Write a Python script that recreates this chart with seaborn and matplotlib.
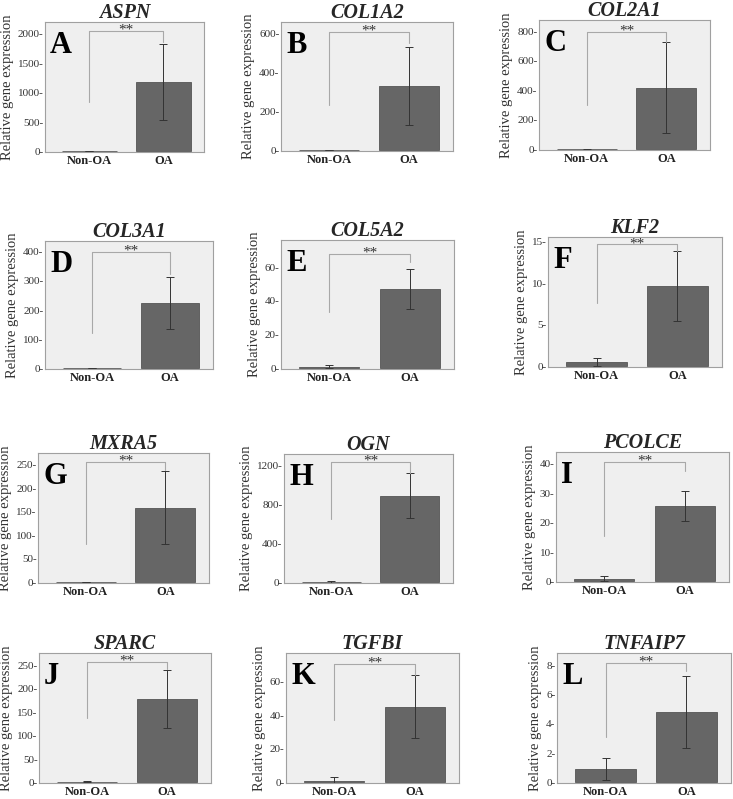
import numpy as np
import pandas as pd
import matplotlib
matplotlib.use("Agg")
import matplotlib.pyplot as plt
import seaborn as sns

sns.set_style("white")
plt.rcParams['font.family'] = ['Liberation Serif', 'DejaVu Serif']

# data
genes = ["ASPN", "COL1A2", "COL2A1", "COL3A1", "COL5A2", "KLF2",
         "MXRA5", "OGN", "PCOLCE", "SPARC", "TGFBI", "TNFAIP7"]
letters = ["A", "B", "C", "D", "E", "F", "G", "H", "I", "J", "K", "L"]
groups = ["Non-OA", "OA"]
nonoa_mean = [1, 1, 1, 1, 0.9, 0.55, 1, 5, 1.0, 2, 1.0, 0.95]
nonoa_err = [1, 1, 2, 1, 0.9, 0.45, 1, 12, 0.7, 1, 2.0, 0.75]
oa_mean = [1180, 332, 419, 225, 47, 9.7, 159, 892, 25.6, 178, 45, 4.82]
oa_err = [645, 202, 307, 88, 12, 4.2, 77, 231, 5.0, 62, 18.7, 2.43]
ymax = [2200, 660, 878, 437, 76, 15.6, 275, 1320, 44, 276, 77, 8.85]
ystep = [500, 200, 200, 100, 20, 5, 50, 400, 10, 50, 20, 2]
# significance bracket: left leg bottom, top, right leg bottom
br_left = [841, 235, 304, 122, 33.6, 7.7, 82, 650, 15.5, 137, 37, 3.09]
br_top = [2051, 609, 800, 400, 67.7, 14.7, 256, 1238, 40.7, 257, 70.7, 8.16]
br_right = [1864, 553, 727, 325, 63, 13.9, 239, 1125, 37.5, 242, 64, 7.6]

# axes boxes in pixels (left, top, right, bottom)
boxes = [(45, 22, 204, 152), (281, 22, 453, 151), (539, 20, 710, 150),
         (45, 241, 213, 369), (281, 240, 454, 369), (548, 237, 722, 367),
         (38, 453, 209, 583), (284, 454, 453, 583), (556, 452, 729, 582),
         (39, 653, 211, 783), (286, 653, 459, 783), (557, 653, 731, 783)]

W, H = 733, 799
fig = plt.figure(figsize=(W / 100, H / 100), dpi=100)

for i, gene in enumerate(genes):
    l, t, r, b = boxes[i]
    ax = fig.add_axes([l / W, 1 - b / H, (r - l) / W, (b - t) / H])
    ax.set_facecolor("#efefef")
    df = pd.DataFrame({"group": groups, "value": [nonoa_mean[i], oa_mean[i]]})
    sns.barplot(data=df, x="group", y="value", ax=ax, color="#666666",
                saturation=1, width=0.75, errorbar=None,
                edgecolor="#555555", linewidth=0.6)
    ax.errorbar([0, 1], df["value"], yerr=[nonoa_err[i], oa_err[i]],
                fmt="none", ecolor="#333333", elinewidth=0.7, capsize=3,
                capthick=0.7)
    ax.plot([0, 0, 1, 1], [br_left[i], br_top[i], br_top[i], br_right[i]],
            color="#a8a8a8", lw=0.8)
    ax.text(0.5, br_top[i] + ymax[i] * 0.005, "**", ha="center", va="center",
            fontsize=11, color="#333333")
    ax.text(0.03, 0.93, letters[i], transform=ax.transAxes, ha="left",
            va="top", fontsize=22, fontweight="bold", color="black")

    ax.set_xlim(-0.6, 1.55)
    ax.set_ylim(-ymax[i] * 0.004, ymax[i])
    ticks = np.arange(0, ymax[i] + 1e-9, ystep[i])
    ax.set_yticks(ticks)
    ax.set_yticklabels([f"{v:g}-" for v in ticks], fontsize=8, color="#333333")
    ax.tick_params(axis="y", length=0, pad=1)
    ax.tick_params(axis="x", length=0, pad=2)
    ax.set_xticks([0, 1])
    ax.set_xticklabels(groups, fontsize=9, fontweight="bold", color="#222222")
    ax.set_xlabel("")
    ax.set_ylabel("Relative gene expression", fontsize=10.5, color="#333333",
                  labelpad=3)
    ax.set_title(gene, fontsize=14.5, fontweight="bold", fontstyle="italic",
                 pad=3)
    for s in ax.spines.values():
        s.set_color("#a0a0a0")
        s.set_linewidth(0.8)

fig.savefig("out.png", dpi=100, facecolor="white")
